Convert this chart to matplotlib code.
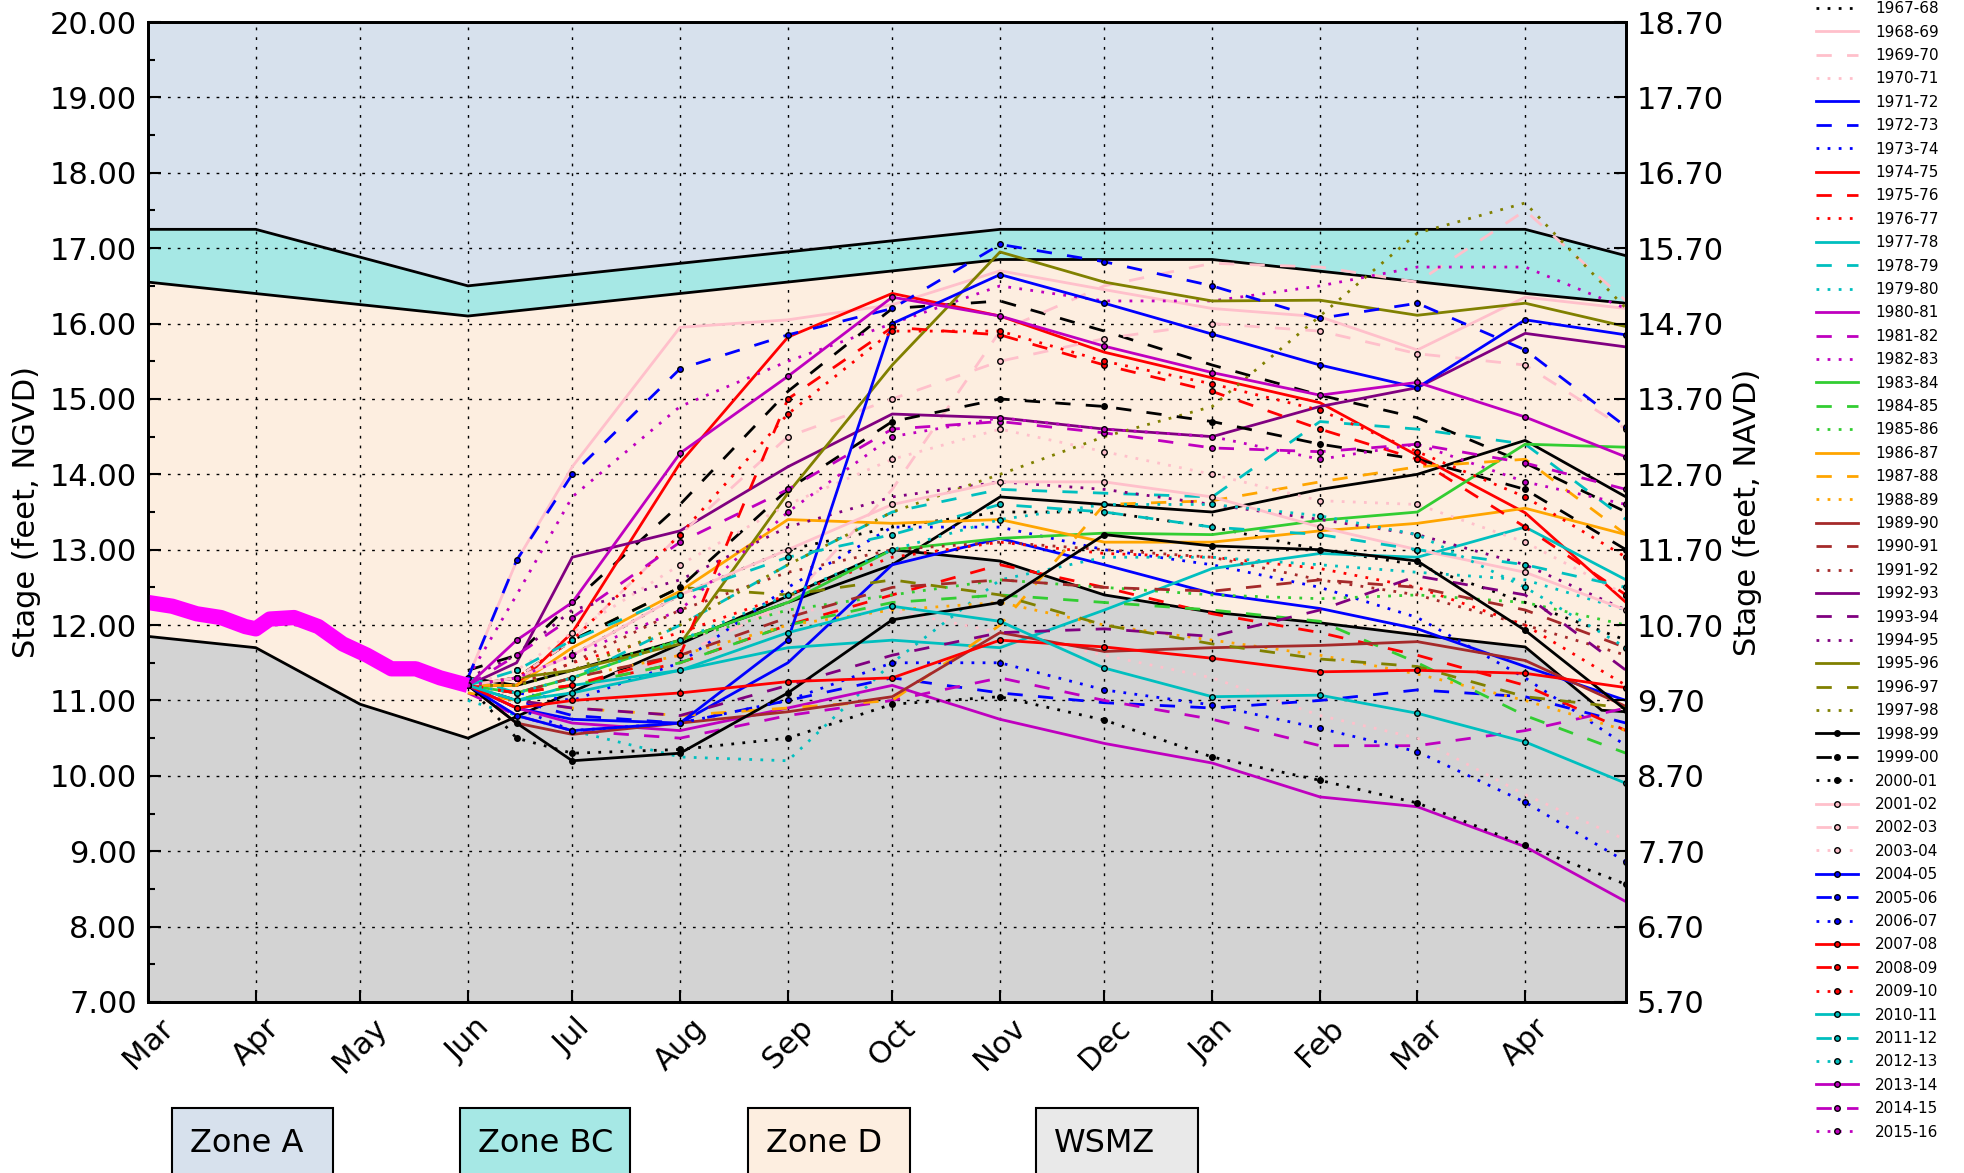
import numpy as np
import matplotlib
matplotlib.use('Agg')
import matplotlib.pyplot as plt
from matplotlib.patches import Rectangle

#%%
# x positions are days counted from Mar 1
month_days = [0, 31, 61, 92, 122, 153, 184, 214, 245, 275, 306, 337, 365, 396]
month_names = ['Mar', 'Apr', 'May', 'Jun', 'Jul', 'Aug', 'Sep', 'Oct', 'Nov', 'Dec',
               'Jan', 'Feb', 'Mar', 'Apr']
x_end = 425

# zone boundaries (feet, NGVD)
zone_a_days = [0, 31, 92, 245, 396, 425]
zone_a_floor = [17.25, 17.25, 16.5, 17.25, 17.25, 16.9]
zone_bc_days = [0, 92, 245, 306, 396, 425]
zone_bc_floor = [16.55, 16.1, 16.85, 16.85, 16.4, 16.27]
zone_d_days = [0, 31, 61, 92, 214, 245, 275, 306, 337, 365, 396, 418, 425]
zone_d_floor = [11.85, 11.7, 10.95, 10.5, 13.0, 12.85, 12.4, 12.17, 12.03, 11.87, 11.71, 10.87, 10.85]

# current year stage
current_days = [0, 7, 14, 21, 28, 31, 35, 42, 49, 56, 63, 70, 77, 84, 92]
current_stage = [12.3, 12.25, 12.15, 12.1, 11.98, 11.95, 12.08, 12.1, 11.98, 11.75,
                 11.6, 11.42, 11.42, 11.3, 11.2]

# historical seasons, Jun 1 .. Apr 30
season_days = [92, 106, 122, 153, 184, 214, 245, 275, 306, 337, 365, 396, 425]
s1965 = [11.3, 11.2, 11.4, 11.8, 12.3, 12.8, 13.7, 13.6, 13.5, 13.8, 14.0, 14.45, 13.7]
s1966 = [11.4, 11.6, 12.3, 13.6, 15.1, 16.2, 16.3, 15.9, 15.45, 15.05, 14.75, 14.15, 13.5]
s1967 = [11.2, 11.3, 11.6, 12.4, 13.0, 13.3, 13.5, 13.5, 13.3, 13.0, 12.8, 12.3, 11.8]
s1968 = [11.3, 12.85, 14.1, 15.95, 16.05, 16.25, 16.7, 16.45, 16.2, 16.09, 15.65, 16.35, 16.2]
s1969 = [11.2, 11.0, 11.2, 11.6, 12.3, 13.8, 15.9, 16.5, 16.8, 16.75, 16.55, 17.5, 16.3]
s1970 = [11.1, 11.1, 11.3, 11.8, 12.2, 12.2, 11.9, 11.6, 11.3, 10.8, 10.5, 9.75, 9.15]
s1971 = [11.2, 10.9, 10.75, 10.7, 11.5, 12.8, 13.15, 12.8, 12.42, 12.22, 11.95, 11.45, 11.0]
s1972 = [11.2, 11.0, 10.8, 10.7, 11.0, 11.3, 11.1, 10.97, 10.9, 11.0, 11.14, 11.05, 10.7]
s1973 = [11.3, 11.1, 11.0, 11.5, 12.5, 13.3, 13.3, 13.0, 12.8, 12.5, 12.1, 11.3, 10.4]
s1974 = [11.2, 11.2, 11.9, 14.15, 15.82, 16.4, 16.1, 15.62, 15.28, 14.95, 14.25, 13.49, 12.3]
s1975 = [11.2, 11.1, 11.2, 11.5, 12.0, 12.4, 12.8, 12.5, 12.15, 11.9, 11.6, 11.2, 10.6]
s1976 = [11.2, 11.2, 11.5, 11.9, 12.4, 12.9, 13.1, 12.95, 12.9, 12.75, 12.5, 12.0, 11.2]
s1977 = [11.2, 11.0, 11.2, 11.4, 11.7, 11.8, 11.7, 12.2, 12.75, 12.95, 12.9, 13.3, 12.6]
s1978 = [11.3, 11.1, 11.3, 12.0, 12.8, 13.5, 13.8, 13.75, 13.7, 14.7, 14.6, 14.4, 13.4]
s1979 = [11.0, 10.8, 10.6, 10.25, 10.2, 11.5, 12.6, 12.9, 12.9, 12.8, 12.7, 12.6, 12.2]
s1980 = [11.2, 10.9, 10.7, 10.6, 10.9, 11.2, 10.75, 10.43, 10.17, 9.72, 9.59, 9.06, 8.33]
s1981 = [11.1, 10.8, 10.6, 10.5, 10.8, 11.0, 11.3, 11.0, 10.75, 10.4, 10.4, 10.6, 10.9]
s1982 = [11.3, 12.4, 13.7, 14.9, 15.5, 16.0, 16.5, 16.3, 16.3, 16.5, 16.75, 16.75, 16.2]
s1983 = [11.2, 11.1, 11.3, 11.8, 12.3, 13.0, 13.15, 13.22, 13.2, 13.39, 13.5, 14.4, 14.36]
s1984 = [11.2, 11.0, 11.2, 11.5, 12.0, 12.3, 12.4, 12.3, 12.2, 12.05, 11.5, 10.8, 10.3]
s1985 = [11.2, 11.2, 11.4, 11.8, 12.2, 12.4, 12.6, 12.5, 12.4, 12.35, 12.4, 12.3, 12.0]
s1986 = [11.2, 11.2, 11.7, 12.45, 13.4, 13.35, 13.4, 13.1, 13.1, 13.25, 13.35, 13.55, 13.2]
s1987 = [11.1, 11.0, 10.9, 10.8, 10.9, 11.0, 12.0, 13.6, 13.65, 13.9, 14.1, 14.2, 13.2]
s1988 = [11.2, 11.1, 11.3, 11.6, 12.0, 12.2, 12.3, 12.0, 11.8, 11.6, 11.35, 11.0, 10.6]
s1989 = [11.2, 10.7, 10.55, 10.7, 10.85, 11.05, 11.9, 11.65, 11.7, 11.73, 11.78, 11.53, 10.92]
s1990 = [11.2, 11.1, 11.3, 11.6, 12.1, 12.5, 12.6, 12.5, 12.45, 12.6, 12.5, 12.2, 11.7]
s1991 = [11.3, 11.2, 11.5, 12.2, 12.7, 13.0, 13.1, 13.0, 12.9, 12.6, 12.4, 12.0, 11.6]
s1992 = [11.2, 11.5, 12.9, 13.25, 14.1, 14.8, 14.75, 14.6, 14.5, 14.9, 15.15, 15.87, 15.69]
s1993 = [11.2, 11.0, 10.9, 10.8, 11.2, 11.6, 11.9, 11.95, 11.85, 12.2, 12.65, 12.4, 11.4]
s1994 = [11.3, 11.6, 12.2, 12.6, 13.3, 13.7, 13.9, 13.8, 13.6, 13.4, 13.2, 12.8, 12.2]
s1995 = [11.2, 11.3, 11.4, 11.75, 13.75, 15.45, 16.95, 16.55, 16.3, 16.31, 16.11, 16.27, 15.96]
s1996 = [11.2, 11.3, 11.8, 12.5, 12.4, 12.6, 12.4, 12.0, 11.75, 11.55, 11.45, 11.05, 10.9]
s1997 = [11.2, 11.2, 11.4, 12.0, 12.8, 13.5, 14.0, 14.5, 14.9, 16.1, 17.2, 17.6, 16.2]
s1998 = [11.2, 10.7, 10.2, 10.3, 11.1, 12.07, 12.3, 13.2, 13.05, 13.0, 12.85, 11.93, 10.87]
s1999 = [11.2, 11.3, 11.8, 12.5, 13.8, 14.7, 15.0, 14.9, 14.7, 14.4, 14.2, 13.8, 13.0]
s2000 = [11.2, 10.5, 10.3, 10.35, 10.5, 10.95, 11.05, 10.74, 10.25, 9.94, 9.64, 9.08, 8.56]
s2001 = [11.2, 11.3, 11.6, 12.4, 13.0, 13.6, 13.9, 13.9, 13.7, 13.3, 13.0, 12.7, 12.2]
s2002 = [11.2, 11.3, 11.8, 13.2, 14.5, 15.0, 15.5, 15.8, 16.0, 15.9, 15.6, 15.45, 14.6]
s2003 = [11.2, 11.4, 11.9, 12.8, 13.6, 14.2, 14.6, 14.3, 14.0, 13.65, 13.6, 13.1, 12.4]
s2004 = [11.2, 10.8, 10.6, 10.7, 11.8, 16.0, 16.65, 16.27, 15.86, 15.45, 15.15, 16.05, 15.85]
s2005 = [11.3, 12.86, 14.0, 15.4, 15.85, 16.2, 17.05, 16.82, 16.5, 16.07, 16.27, 15.65, 14.63]
s2006 = [11.2, 10.9, 10.6, 10.7, 11.0, 11.5, 11.5, 11.14, 10.94, 10.63, 10.32, 9.65, 8.86]
s2007 = [11.2, 10.9, 11.0, 11.1, 11.25, 11.3, 11.8, 11.71, 11.56, 11.38, 11.4, 11.36, 11.17]
s2008 = [11.2, 11.1, 11.2, 11.6, 15.0, 15.95, 15.85, 15.45, 15.1, 14.6, 14.2, 13.3, 12.4]
s2009 = [11.2, 11.3, 11.8, 13.2, 14.8, 15.9, 15.9, 15.5, 15.2, 14.85, 14.3, 13.7, 12.9]
s2010 = [11.2, 11.0, 11.1, 11.4, 11.9, 12.25, 12.05, 11.43, 11.05, 11.07, 10.83, 10.45, 9.9]
s2011 = [11.2, 11.4, 11.8, 12.4, 12.9, 13.2, 13.6, 13.5, 13.3, 13.2, 13.0, 12.8, 12.5]
s2012 = [11.2, 11.1, 11.3, 11.8, 12.4, 13.0, 13.4, 13.6, 13.6, 13.45, 13.2, 12.5, 11.7]
s2013 = [11.2, 11.8, 12.3, 14.28, 15.3, 16.35, 16.1, 15.7, 15.35, 15.05, 15.22, 14.76, 14.23]
s2014 = [11.2, 11.6, 12.1, 13.1, 13.8, 14.6, 14.7, 14.55, 14.35, 14.3, 14.4, 14.15, 13.8]
s2015 = [11.2, 11.3, 11.6, 12.2, 13.5, 14.5, 14.75, 14.6, 14.5, 14.2, 14.4, 13.9, 13.6]

seasons = [s1965, s1966, s1967, s1968, s1969, s1970, s1971, s1972, s1973, s1974,
           s1975, s1976, s1977, s1978, s1979, s1980, s1981, s1982, s1983, s1984,
           s1985, s1986, s1987, s1988, s1989, s1990, s1991, s1992, s1993, s1994,
           s1995, s1996, s1997, s1998, s1999, s2000, s2001, s2002, s2003, s2004,
           s2005, s2006, s2007, s2008, s2009, s2010, s2011, s2012, s2013, s2014, s2015]
first_year = 1965

colors = ['k', 'pink', 'b', 'r', 'c', 'm', 'limegreen', 'orange', 'brown', 'purple', 'olive']
styles = ['-', (0, (5.5, 5.5)), (0, (1, 3))]

#%%
fig = plt.figure(figsize=(19.65, 11.73), dpi=100)
ax = fig.add_axes([0.0753, 0.1458, 0.7522, 0.8354])

def poly(xa, ya, xb, yb, color):
    xs = list(xa) + list(xb)[::-1]
    ys = list(ya) + list(yb)[::-1]
    ax.fill(xs, ys, color=color, zorder=0.5, lw=0)

poly(zone_a_days, zone_a_floor, [0, x_end], [20, 20], '#d7e1ed')
poly(zone_bc_days, zone_bc_floor, zone_a_days, zone_a_floor, '#a6e8e5')
poly(zone_d_days, zone_d_floor, zone_bc_days, zone_bc_floor, '#fdeee0')
poly([0, x_end], [7, 7], zone_d_days, zone_d_floor, '#d3d3d3')

for xs, ys in [(zone_a_days, zone_a_floor), (zone_bc_days, zone_bc_floor), (zone_d_days, zone_d_floor)]:
    ax.plot(xs, ys, color='k', lw=2, zorder=1.8)

handles = []
for i, vals in enumerate(seasons):
    c = colors[(i // 3) % len(colors)]
    ls = styles[i % 3]
    label = '%d-%02d' % (first_year + i, (first_year + i + 1) % 100)
    kw = dict(color=c, linestyle=ls, lw=2, label=label)
    if i >= 33:
        kw.update(marker='o', ms=4, mec='k', mfc=c, mew=1)
    h, = ax.plot(season_days, vals, **kw)
    handles.append(h)

ax.plot(current_days, current_stage, color='#ff00ff', lw=11, solid_capstyle='butt', zorder=5)

ax.set_xlim(0, x_end)
ax.set_ylim(7, 20)
ax.set_xticks(month_days)
ax.set_xticklabels(month_names, rotation=45, fontsize=22)
ax.set_yticks(np.arange(7, 20.5, 1))
ax.set_yticks(np.arange(7.5, 20, 1), minor=True)
ax.set_yticklabels(['%.2f' % v for v in np.arange(7, 20.5, 1)], fontsize=22)
ax.tick_params(axis='both', which='major', direction='in', length=9, width=1.5, pad=8)
ax.tick_params(axis='y', which='minor', direction='in', length=5, width=1.5)
ax.grid(True, which='major', color='k', linestyle=(0, (2, 5)), lw=1)
ax.set_ylabel('Stage (feet, NGVD)', fontsize=22, labelpad=6)
for sp in ax.spines.values():
    sp.set_linewidth(2)

ax2 = ax.twinx()
ax2.set_ylim(5.7, 18.7)
ax2.set_yticks(np.arange(5.7, 18.75, 1))
ax2.set_yticklabels(['%.2f' % v for v in np.arange(5.7, 18.75, 1)], fontsize=22)
ax2.tick_params(axis='y', direction='in', length=9, width=1.5, pad=8)
ax2.set_ylabel('Stage (feet, NAVD)', fontsize=22, labelpad=6)
for sp in ax2.spines.values():
    sp.set_linewidth(2)

# the first two seasons sit above the top edge in the original key, leave them out
leg_handles = handles[2:]
fig.legend(leg_handles, [h.get_label() for h in leg_handles], loc='lower left',
           bbox_to_anchor=(0.9205, 0.022), frameon=False, fontsize=11,
           handlelength=2.75, handletextpad=1.1, labelspacing=0.55, borderpad=0)

# zone key boxes under the chart
zone_names = ['Zone A', 'Zone BC', 'Zone D', 'WSMZ']
zone_colors = ['#d7e1ed', '#a6e8e5', '#fdeee0', '#e9e9e9']
box_left = [172, 460, 748, 1036]
box_width = [161, 170, 162, 162]
for name, c, bx, bw in zip(zone_names, zone_colors, box_left, box_width):
    fig.add_artist(Rectangle((bx / 1965, -0.05), bw / 1965, 0.1054,
                             transform=fig.transFigure, facecolor=c,
                             edgecolor='k', lw=1.5))
    fig.text((bx + 18) / 1965, 1 - 1143 / 1173, name, fontsize=23, va='center', ha='left')

fig.savefig('out.png', dpi=100)
